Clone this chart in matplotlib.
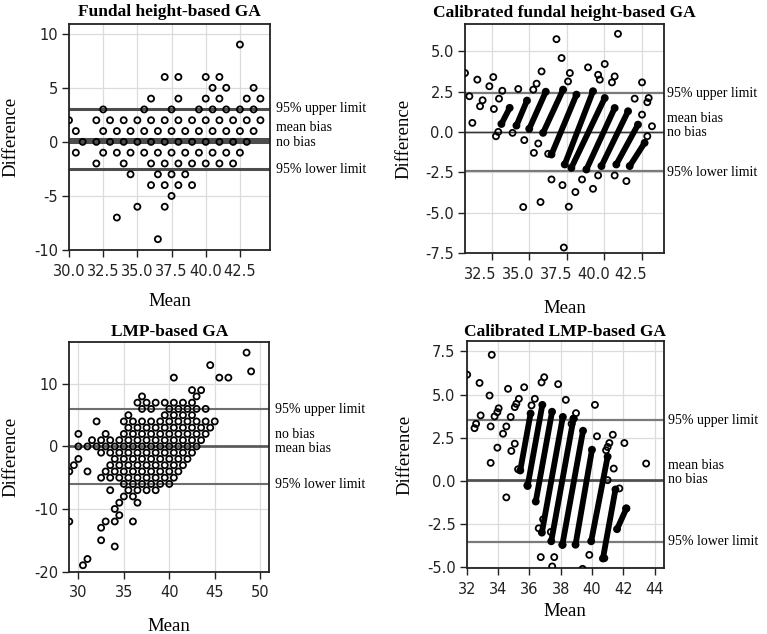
import numpy as np
import matplotlib.pyplot as plt
import matplotlib.transforms as mtransforms

plt.rcParams['font.family'] = 'DejaVu Sans'
plt.rcParams['axes.unicode_minus'] = False
SERIF = 'Liberation Serif'

# ---------------- Fundal height-based GA (rows of equal difference) ----------------
fh_levels = [9, 6, 5, 4, 3, 2, 1, 0, -1, -2, -3, -4, -5, -6, -7, -9]
fh_rows = [
    [42.5],
    [37, 38, 40, 41],
    [40.5, 41.5, 43.5],
    [36, 38, 40, 41, 43, 44],
    [32.5, 35.5, 37.5, 39.5, 40.5, 41.5, 42.5, 43.5],
    [30, 32, 33, 34, 35, 36, 37, 38, 39, 40, 41, 42, 43, 44],
    [30.5, 32.5, 33.5, 34.5, 35.5, 36.5, 37.5, 38.5, 39.5, 40.5, 41.5, 42.5, 43.5],
    [31, 32, 33, 34, 35, 36, 37, 38, 39, 40, 41, 42, 43],
    [30.5, 32.5, 33.5, 34.5, 35.5, 36.5, 37.5, 38.5, 39.5, 40.5, 41.5, 42.5],
    [32, 34, 36, 37, 38, 39, 40, 41, 42],
    [34.5, 36.5, 37.5, 38.5],
    [36, 37, 38, 39],
    [37.5],
    [35, 37],
    [33.5],
    [36.5],
]
fh_upper, fh_bias, fh_lower = 3.05, 0.25, -2.55

# ---------------- Calibrated fundal height-based GA ----------------
cfh_mean = [30.73, 31.02, 31.22, 31.55, 31.73, 31.9, 32.35, 32.61, 32.65, 32.79,
            32.94, 32.99, 33.21, 33.89, 34.27, 34.67, 35.27, 35.49, 35.31, 35.6,
            35.82, 36.26, 36.48, 37.21, 34.6, 35.75, 37.3, 36.81, 37.15, 40.9,
            38.91, 40.02, 37.7, 39.58, 40.68, 37.58, 39.69, 40.5, 42.5, 42.01,
            42.94, 42.85, 42.5, 43.16, 42.85, 41.46, 40.68, 39.58, 39.24, 38.51,
            38.07, 37.63]
cfh_diff = [3.66, 2.22, 0.57, 3.25, 1.6, 1.97, 2.84, 3.41, 1.43, -0.26,
            0.01, 2.07, 2.56, -0.05, 2.67, -0.5, 2.63, 3.0, -1.29, -0.71,
            3.76, -1.35, -2.94, -3.29, -4.65, -4.34, -7.16, 5.76, 4.59, 6.09,
            4.01, 4.22, 3.66, 3.55, 3.45, 3.14, 3.25, 3.08, 3.08, 2.07,
            2.11, 1.85, 1.08, 0.36, -0.26, -3.04, -2.69, -2.69, -3.52, -2.94,
            -3.72, -4.63]
# dense runs of overlapping points: start and end of each run
cfh_run_x0 = [33.15, 34.15, 35.0, 35.92, 36.48, 37.36, 37.8, 38.8, 39.8, 40.79, 41.68]
cfh_run_y0 = [0.5, 0.4, 0.2, -0.05, -1.39, -2.01, -2.22, -2.32, -2.11, -2.01, -2.11]
cfh_run_x1 = [33.7, 34.85, 36.1, 37.25, 38.14, 39.24, 40.02, 40.68, 41.57, 42.23, 42.67]
cfh_run_y1 = [1.5, 1.95, 2.5, 2.63, 2.32, 2.53, 2.11, 1.49, 1.29, 0.46, -0.67]
cfh_upper, cfh_bias, cfh_lower = 2.4, 0.02, -2.4

# ---------------- LMP-based GA (rows of equal difference) ----------------
lmp_levels = [15, 13, 12, 11, 9, 8, 7, 6, 5, 4, 3, 2, 1, 0, -1, -2, -3, -4, -5,
              -6, -7, -8, -9, -10, -11, -12, -13, -15, -16, -18, -19]
lmp_rows = [
    [48.5],
    [44.5],
    [49],
    [40.5, 45.5, 46.5],
    [42.5, 43.5],
    [37, 43],
    [36.5, 37.5, 38.5, 39.5, 40.5, 41.5, 42.5],
    [37, 38, 40, 41, 42, 43, 44],
    [35.5, 39.5, 40.5, 41.5, 42.5],
    [32, 35, 36, 37, 38, 39, 40, 41, 42, 43, 44, 45],
    [35.5, 36.5, 37.5, 38.5, 39.5, 40.5, 41.5, 42.5, 43.5, 44.5],
    [30, 33, 35, 36, 37, 38, 39, 40, 41, 42, 43, 44],
    [31.5, 32.5, 33.5, 34.5, 35.5, 36.5, 37.5, 38.5, 39.5, 40.5, 41.5, 42.5, 43.5],
    [30, 31, 32, 33, 34, 35, 36, 37, 38, 39, 40, 41, 42, 43],
    [32.5, 33.5, 34.5, 35.5, 36.5, 37.5, 38.5, 39.5, 40.5, 41.5, 42.5],
    [30, 34, 35, 36, 37, 38, 39, 40, 41, 42],
    [29.5, 33.5, 34.5, 35.5, 36.5, 37.5, 38.5, 39.5, 40.5, 41.5],
    [29, 31, 33, 34, 35, 36, 37, 38, 39, 40, 41],
    [32.5, 33.5, 34.5, 35.5, 36.5, 37.5, 38.5, 39.5, 40.5],
    [35, 36, 37, 38, 39, 40],
    [33.5, 35.5, 36.5, 37.5, 38.5],
    [35, 36],
    [34.5, 36.5],
    [34],
    [34.5],
    [29, 33, 34, 36],
    [32.5],
    [32.5],
    [34],
    [31],
    [30.5],
]
lmp_upper, lmp_bias, lmp_lower = 6.0, -0.05, -6.0

# ---------------- Calibrated LMP-based GA ----------------
clmp_mean = [32.03, 33.6, 32.82, 33.46, 34.64, 35.67, 36.95, 36.78, 37.84, 32.89,
             32.5, 32.6, 33.53, 34.04, 33.96, 33.78, 34.53, 34.32, 33.96, 34.85,
             33.53, 34.53, 35.07, 35.17, 35.33, 34.81, 35.07, 35.28, 36.35, 36.14,
             38.33, 40.19, 38.98, 38.83, 38.7, 40.32, 41.33, 42.07, 41.11, 41.0,
             40.9, 43.46, 41.39, 41.0, 41.75, 42.18, 39.83, 40.79, 38.12, 39.4,
             36.6, 36.88, 36.73, 37.59, 37.46, 37.37, 35.88]
clmp_diff = [6.15, 7.3, 5.67, 4.94, 5.33, 5.42, 6.0, 5.7, 5.6, 3.79,
             3.05, 3.3, 3.15, 4.2, 3.98, 3.73, 3.15, 2.73, 1.92, 1.73,
             1.04, -0.96, 4.27, 4.46, 4.75, 3.7, 2.15, 0.67, 4.75, 4.37,
             4.69, 4.4, 3.92, 3.6, 3.3, 2.58, 2.67, 2.19, 2.19, 1.96,
             1.77, 1.0, 0.71, 0.04, -0.44, -1.6, -4.29, -4.48, -3.71, -5.1,
             -2.75, -2.23, -4.42, -4.42, -4.96, -2.96, -0.25]
clmp_run_x0 = [35.42, 35.89, 36.41, 36.8, 37.4, 38.11, 38.95, 39.95, 40.7, 41.6]
clmp_run_y0 = [0.6, -0.3, -1.2, -3.0, -3.5, -3.7, -3.7, -3.5, -4.5, -2.8]
clmp_run_x1 = [36.08, 36.83, 37.45, 38.14, 38.82, 39.43, 40.0, 41.0, 41.5, 42.2]
clmp_run_y1 = [3.9, 4.4, 4.0, 3.7, 3.6, 2.9, 1.8, 1.4, -0.5, -1.6]
clmp_upper, clmp_bias, clmp_lower = 3.55, 0.02, -3.55

W, H = 767, 634
fig = plt.figure(figsize=(W / 100, H / 100), dpi=100)


def add_ax(l, t, r, b):
    return fig.add_axes([l / W, 1 - b / H, (r - l) / W, (b - t) / H])


def flatten(levels, rows):
    xs, ys = [], []
    for lev, row in zip(levels, rows):
        xs += row
        ys += [lev] * len(row)
    return xs, ys


def style(ax, title, xlim, ylim, xticks, yticks, fx, fy, tpad, xlab_y, ylab_x):
    ax.set_xlim(xlim)
    ax.set_ylim(ylim)
    ax.set_xticks(xticks)
    ax.set_xticklabels([fx.format(v) for v in xticks])
    ax.set_yticks(yticks)
    ax.set_yticklabels([fy.format(v) for v in yticks])
    ax.grid(True, color='#dcdcdc', lw=0.9)
    ax.set_axisbelow(True)
    ax.tick_params(direction='out', length=5, width=1, colors='#222222', labelsize=10.5)
    ax.tick_params(axis='x', pad=5)
    ax.tick_params(axis='y', pad=3)
    for s in ax.spines.values():
        s.set_color('#222222')
        s.set_linewidth(1.3)
    ax.set_title(title, fontsize=12.5, fontweight='bold', family=SERIF, pad=tpad)
    ax.set_xlabel('Mean', fontsize=13.5, family=SERIF)
    ax.xaxis.set_label_coords(0.5, xlab_y)
    ax.set_ylabel('Difference', fontsize=13.5, family=SERIF)
    ax.yaxis.set_label_coords(ylab_x, 0.5)


def limits(ax, vals, labels, lab_y, lab_x, lw, color):
    for v in vals:
        ax.axhline(v, color=color, lw=lw, zorder=1.5)
    tr = mtransforms.blended_transform_factory(ax.transAxes, ax.transData)
    for s, y in zip(labels, lab_y):
        ax.text(lab_x, y, s, transform=tr, ha='left', va='center',
                fontsize=10, family=SERIF, clip_on=False)


def points(ax, x, y):
    ax.scatter(x, y, s=19, facecolors='none', edgecolors='black',
               linewidths=1.3, zorder=3)


def runs(ax, x0, y0, x1, y1):
    for a, b, c, d in zip(x0, y0, x1, y1):
        ax.plot([a, c], [b, d], color='black', lw=4.2,
                solid_capstyle='round', zorder=3)
    ax.scatter(x0 + x1, y0 + y1, s=19, facecolors='none', edgecolors='black',
               linewidths=1.3, zorder=3)


# panel 1
ax1 = add_ax(69, 24, 270, 250)
x, y = flatten(fh_levels, fh_rows)
points(ax1, x, y)
limits(ax1, [fh_upper, fh_bias, 0, fh_lower],
       ['95% upper limit', 'mean bias', 'no bias', '95% lower limit'],
       [3.05, 1.35, -0.1, -2.55], 1.03, 2.2, '#4d4d4d')
style(ax1, 'Fundal height-based GA', (30, 44.7), (-10, 10.9),
      [30, 32.5, 35, 37.5, 40, 42.5], [-10, -5, 0, 5, 10], '{:.1f}', '{:g}',
      6, -0.19, -0.245)

# panel 2
ax2 = add_ax(465, 24, 664, 253)
runs(ax2, cfh_run_x0, cfh_run_y0, cfh_run_x1, cfh_run_y1)
points(ax2, cfh_mean, cfh_diff)
limits(ax2, [cfh_upper, cfh_lower], [], [], 1.015, 1.6, '#7a7a7a')
limits(ax2, [0, cfh_bias], ['95% upper limit', 'mean bias', 'no bias', '95% lower limit'],
       [2.38, 0.82, -0.05, -2.49], 1.015, 1.0, '#3a3a3a')
style(ax2, 'Calibrated fundal height-based GA', (30.73, 43.96), (-7.5, 6.7),
      [32.5, 35, 37.5, 40, 42.5], [-7.5, -5, -2.5, 0, 2.5, 5], '{:.1f}', '{:.1f}',
      5, -0.205, -0.265)
# the tick labels of this panel sit a little left of their grid lines
shift = mtransforms.ScaledTranslation(-0.11, 0, fig.dpi_scale_trans)
for lab in ax2.get_xticklabels():
    lab.set_transform(lab.get_transform() + shift)

# panel 3
ax3 = add_ax(69.3, 342, 269.3, 571.5)
x, y = flatten(lmp_levels, lmp_rows)
points(ax3, x, y)
limits(ax3, [lmp_upper, lmp_lower], [], [], 1.028, 1.5, '#6e6e6e')
limits(ax3, [0, lmp_bias], ['95% upper limit', 'no bias', 'mean bias', '95% lower limit'],
       [5.97, 1.97, -0.32, -6.08], 1.028, 1.2, '#555555')
style(ax3, 'LMP-based GA', (29.0, 51.0), (-20, 16.7),
      [30, 35, 40, 45, 50], [-20, -10, 0, 10], '{:g}', '{:g}',
      4, -0.204, -0.248)

# panel 4
ax4 = add_ax(466.7, 341, 664, 568)
runs(ax4, clmp_run_x0, clmp_run_y0, clmp_run_x1, clmp_run_y1)
points(ax4, clmp_mean, clmp_diff)
limits(ax4, [clmp_upper, clmp_lower], [], [], 1.02, 1.6, '#7a7a7a')
limits(ax4, [0, clmp_bias], ['95% upper limit', 'mean bias', 'no bias', '95% lower limit'],
       [3.48, 0.88, 0.08, -3.54], 1.02, 1.2, '#4a4a4a')
style(ax4, 'Calibrated LMP-based GA', (32, 44.6), (-5.05, 8.1),
      [32, 34, 36, 38, 40, 42, 44], [-5, -2.5, 0, 2.5, 5, 7.5], '{:g}', '{:.1f}',
      3.5, -0.155, -0.27)

fig.savefig('out.png', dpi=100)
